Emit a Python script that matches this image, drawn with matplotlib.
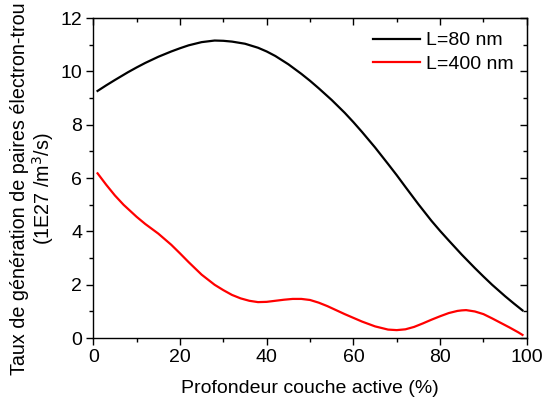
import matplotlib
matplotlib.use("Agg")
import matplotlib.pyplot as plt
from matplotlib.ticker import MultipleLocator

plt.rcParams['font.family'] = ['Liberation Sans', 'DejaVu Sans']

# Profondeur (%) et taux de generation (1E27 /m^3/s)
x_80 = [1, 3, 5, 8, 10, 12, 15, 18, 20, 22, 25, 28, 30, 32, 35, 38, 40, 42, 45, 48,
        50, 52, 55, 58, 60, 62, 65, 68, 70, 72, 75, 78, 80, 82, 85, 88, 90, 92, 95, 97, 99]
y_80 = [9.27, 9.48, 9.68, 9.97, 10.15, 10.32, 10.55, 10.75, 10.87, 10.98, 11.1, 11.16, 11.15,
        11.12, 11.04, 10.89, 10.75, 10.58, 10.27, 9.91, 9.65, 9.37, 8.93, 8.45, 8.1, 7.73,
        7.15, 6.53, 6.11, 5.67, 5.02, 4.4, 4.02, 3.66, 3.13, 2.63, 2.31, 2.0, 1.57, 1.3, 1.04]

x_400 = [1, 3, 5, 7, 10, 12, 15, 18, 20, 22, 25, 28, 30, 32, 34, 36, 38, 40, 42, 44, 46, 48,
         50, 52, 54, 56, 58, 60, 62, 65, 68, 70, 72, 74, 76, 78, 80, 82, 84, 85, 86, 88,
         90, 92, 94, 96, 98, 99]
y_400 = [6.18, 5.75, 5.35, 5.0, 4.55, 4.28, 3.92, 3.5, 3.18, 2.85, 2.38, 2.0, 1.8, 1.62, 1.49,
         1.4, 1.35, 1.36, 1.4, 1.44, 1.47, 1.47, 1.43, 1.33, 1.2, 1.05, 0.9, 0.76, 0.62,
         0.44, 0.32, 0.3, 0.33, 0.42, 0.55, 0.69, 0.82, 0.94, 1.02, 1.04, 1.05, 1.0, 0.9,
         0.74, 0.57, 0.4, 0.22, 0.12]

fig = plt.figure(figsize=(5.42, 4.03), dpi=100)
ax = fig.add_axes([0.172, 0.161, 0.8, 0.794])

ax.plot(x_80, y_80, color='black', lw=1.6, label='L=80 nm')
ax.plot(x_400, y_400, color='red', lw=1.6, label='L=400 nm')

ax.set_xlim(0, 100)
ax.set_ylim(0, 12)
ax.xaxis.set_major_locator(MultipleLocator(20))
ax.xaxis.set_minor_locator(MultipleLocator(10))
ax.yaxis.set_major_locator(MultipleLocator(2))
ax.yaxis.set_minor_locator(MultipleLocator(1))

ax.tick_params(which='both', direction='out', top=False, right=False, labelsize=14, width=1)
ax.tick_params(which='major', length=5, pad=3)
ax.tick_params(which='minor', length=3)

# ticks internes en haut et a droite
ax_top = ax.secondary_xaxis('top')
ax_top.xaxis.set_major_locator(MultipleLocator(20))
ax_top.xaxis.set_minor_locator(MultipleLocator(10))
ax_top.tick_params(which='both', direction='in', labeltop=False, width=1)
ax_top.tick_params(which='major', length=5)
ax_top.tick_params(which='minor', length=3)
ax_right = ax.secondary_yaxis('right')
ax_right.yaxis.set_major_locator(MultipleLocator(2))
ax_right.yaxis.set_minor_locator(MultipleLocator(1))
ax_right.tick_params(which='both', direction='in', labelright=False, width=1)
ax_right.tick_params(which='major', length=5)
ax_right.tick_params(which='minor', length=3)

for s in ax.spines.values():
    s.set_linewidth(1)

ax.set_xlabel('Profondeur couche active (%)', fontsize=14, labelpad=10)
ax.set_ylabel('Taux de génération de paires électron-trou\n(1E27 /m$^3$/s)',
              fontsize=14.2, linespacing=1.05)
ax.yaxis.set_label_coords(-0.085, 0.466)

ax.legend(loc='upper right', frameon=False, fontsize=14, handlelength=2.4,
          handletextpad=0.3, labelspacing=0.3, borderaxespad=0.3)

fig.savefig('out.png', dpi=100)
